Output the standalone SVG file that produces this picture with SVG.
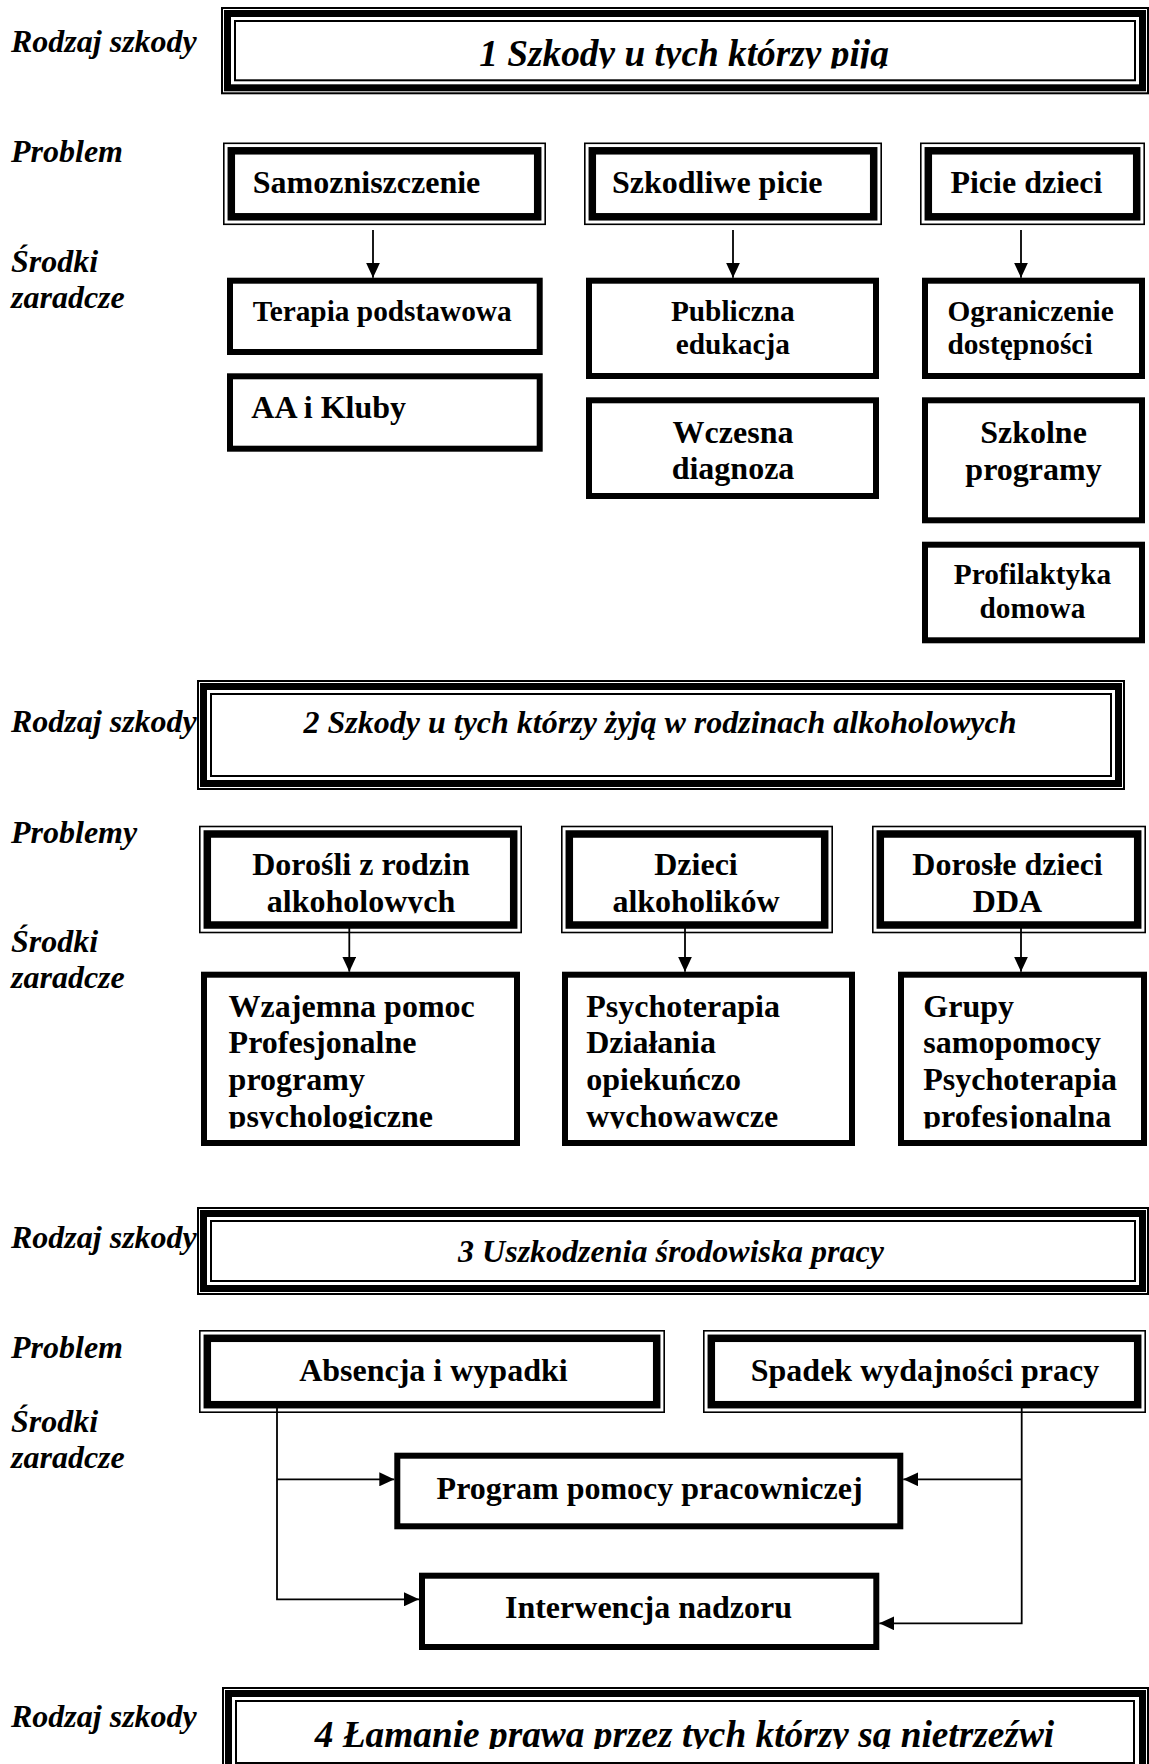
<svg xmlns="http://www.w3.org/2000/svg" width="1149" height="1764" viewBox="0 0 1149 1764">
<style>
  .bg{fill:#fff}
  .lbl{font-family:"Liberation Serif","Times New Roman",serif;font-weight:bold;font-style:italic;font-size:32px;fill:#000}
  .tt{font-family:"Liberation Serif","Times New Roman",serif;font-weight:bold;font-style:italic;fill:#000;text-anchor:middle}
  .tx{font-family:"Liberation Serif","Times New Roman",serif;font-weight:bold;font-size:32px;fill:#000}
  .sm{font-size:29.33px}
  .mid{text-anchor:middle}
  .thin{fill:none;stroke:#000;stroke-width:2}
  .thick7{fill:none;stroke:#000;stroke-width:7}
  .pthin{fill:none;stroke:#000;stroke-width:1.6}
  .pthick{fill:#fff;stroke:#000;stroke-width:7.5}
  .rbox{fill:#fff;stroke:#000;stroke-width:6}
  .conn{fill:none;stroke:#000;stroke-width:1.8}
</style>
<defs>
  <marker id="ah" viewBox="0 0 15 14" refX="15" refY="7" markerWidth="15" markerHeight="14" markerUnits="userSpaceOnUse" orient="auto">
    <path d="M0,0 L15,7 L0,14 Z" fill="#000"/>
  </marker>
  <clipPath id="c1"><rect x="221" y="0" width="928" height="68.5"/></clipPath>
  <clipPath id="c2"><rect x="190" y="800" width="959" height="113.3"/></clipPath>
  <clipPath id="c3"><rect x="190" y="960" width="959" height="168.5"/></clipPath>
  <clipPath id="c4"><rect x="221" y="1680" width="928" height="69"/></clipPath>
</defs>
<rect class="bg" x="0" y="0" width="1149" height="1764"/>

<g id="labels">
  <text class="lbl" x="11" y="52">Rodzaj szkody</text>
  <text class="lbl" x="11" y="161.7">Problem</text>
  <text class="lbl" x="11" y="271.7">Środki</text>
  <text class="lbl" x="11" y="308.3">zaradcze</text>
  <text class="lbl" x="11" y="731.7">Rodzaj szkody</text>
  <text class="lbl" x="11" y="843.3">Problemy</text>
  <text class="lbl" x="11" y="951.7">Środki</text>
  <text class="lbl" x="11" y="988.3">zaradcze</text>
  <text class="lbl" x="11" y="1248.3">Rodzaj szkody</text>
  <text class="lbl" x="11" y="1358.3">Problem</text>
  <text class="lbl" x="11" y="1431.7">Środki</text>
  <text class="lbl" x="11" y="1468.3">zaradcze</text>
  <text class="lbl" x="11" y="1726.7">Rodzaj szkody</text>
</g>

<!-- Section 1 -->
<g id="title1">
  <rect class="thin" x="222" y="8" width="926" height="85.3"/>
  <rect class="thick7" x="227.5" y="13.5" width="915" height="74.3"/>
  <rect class="thin" x="235" y="21" width="900" height="59.3"/>
  <text class="tt" x="684" y="65.5" font-size="37.33" clip-path="url(#c1)">1 Szkody u tych którzy piją</text>
</g>

<g id="p-samozniszczenie">
  <rect class="pthin" x="223.8" y="143.3" width="321.4" height="81"/>
  <rect class="pthick" x="231.3" y="150.8" width="306.4" height="66"/>
  <text class="tx" x="252.8" y="193.3">Samozniszczenie</text>
</g>
<g id="p-szkodliwe">
  <rect class="pthin" x="584.8" y="143.3" width="296.4" height="81"/>
  <rect class="pthick" x="592.3" y="150.8" width="281.4" height="66"/>
  <text class="tx" x="611.9" y="193.3">Szkodliwe picie</text>
</g>
<g id="p-piciedzieci">
  <rect class="pthin" x="920.8" y="143.3" width="223.4" height="81"/>
  <rect class="pthick" x="928.3" y="150.8" width="208.4" height="66"/>
  <text class="tx" x="950.4" y="193.3">Picie dzieci</text>
</g>

<g id="r-terapia">
  <rect class="rbox" x="230" y="280.7" width="309.7" height="71.3"/>
  <text class="tx sm" x="252.8" y="320.7">Terapia podstawowa</text>
</g>
<g id="r-aa">
  <rect class="rbox" x="230" y="376.3" width="309.7" height="72.4"/>
  <text class="tx" x="251.3" y="418.3">AA i Kluby</text>
</g>
<g id="r-publiczna">
  <rect class="rbox" x="589" y="280.7" width="287" height="95.3"/>
  <text class="tx sm mid" x="732.8" y="320.7">Publiczna</text>
  <text class="tx sm mid" x="732.8" y="354">edukacja</text>
</g>
<g id="r-wczesna">
  <rect class="rbox" x="589" y="400.3" width="287" height="95.7"/>
  <text class="tx mid" x="733" y="443.3">Wczesna</text>
  <text class="tx mid" x="733" y="479.3">diagnoza</text>
</g>
<g id="r-ograniczenie">
  <rect class="rbox" x="925" y="280.7" width="217" height="95.3"/>
  <text class="tx sm" x="947.5" y="320.7">Ograniczenie</text>
  <text class="tx sm" x="947.5" y="354">dostępności</text>
</g>
<g id="r-szkolne">
  <rect class="rbox" x="925" y="400.3" width="217" height="120"/>
  <text class="tx mid" x="1033.5" y="443.3">Szkolne</text>
  <text class="tx mid" x="1033.5" y="480">programy</text>
</g>
<g id="r-profilaktyka">
  <rect class="rbox" x="925" y="544.7" width="217" height="95.6"/>
  <text class="tx sm mid" x="1032.5" y="584">Profilaktyka</text>
  <text class="tx sm mid" x="1032.5" y="618.3">domowa</text>
</g>

<!-- Section 2 -->
<g id="title2">
  <rect class="thin" x="198" y="681" width="926" height="108"/>
  <rect class="thick7" x="203.5" y="686.5" width="915" height="97"/>
  <rect class="thin" x="211" y="694" width="900" height="82"/>
  <text class="tt" x="660" y="733.3" font-size="32">2 Szkody u tych którzy żyją w rodzinach alkoholowych</text>
</g>

<g id="p-dorosli">
  <rect class="pthin" x="199.8" y="826.5" width="321.4" height="106"/>
  <rect class="pthick" x="207.3" y="834" width="306.4" height="91"/>
  <g clip-path="url(#c2)">
    <text class="tx mid" x="361" y="875">Dorośli z rodzin</text>
    <text class="tx mid" x="361" y="911.7">alkoholowych</text>
  </g>
</g>
<g id="p-dzieci">
  <rect class="pthin" x="561.8" y="826.5" width="270.4" height="106"/>
  <rect class="pthick" x="569.3" y="834" width="255.4" height="91"/>
  <g clip-path="url(#c2)">
    <text class="tx mid" x="696" y="875">Dzieci</text>
    <text class="tx mid" x="696" y="911.7">alkoholików</text>
  </g>
</g>
<g id="p-dda">
  <rect class="pthin" x="872.8" y="826.5" width="272.4" height="106"/>
  <rect class="pthick" x="880.3" y="834" width="257.4" height="91"/>
  <g clip-path="url(#c2)">
    <text class="tx mid" x="1007.5" y="875">Dorosłe dzieci</text>
    <text class="tx mid" x="1007.5" y="911.7">DDA</text>
  </g>
</g>

<g id="r-wzajemna">
  <rect class="rbox" x="204" y="974.7" width="313" height="168.3"/>
  <g clip-path="url(#c3)">
    <text class="tx" x="228.6" y="1016.7">Wzajemna pomoc</text>
    <text class="tx" x="228.6" y="1053.3">Profesjonalne</text>
    <text class="tx" x="228.6" y="1090">programy</text>
    <text class="tx" x="228.6" y="1126.7">psychologiczne</text>
  </g>
</g>
<g id="r-psychoterapia">
  <rect class="rbox" x="565" y="974.7" width="287" height="168.3"/>
  <g clip-path="url(#c3)">
    <text class="tx" x="586.2" y="1016.7">Psychoterapia</text>
    <text class="tx" x="586.2" y="1053.3">Działania</text>
    <text class="tx" x="586.2" y="1090">opiekuńczo</text>
    <text class="tx" x="586.2" y="1126.7">wychowawcze</text>
  </g>
</g>
<g id="r-grupy">
  <rect class="rbox" x="901" y="974.7" width="243" height="168.3"/>
  <g clip-path="url(#c3)">
    <text class="tx" x="923.3" y="1016.7">Grupy</text>
    <text class="tx" x="923.3" y="1053.3">samopomocy</text>
    <text class="tx" x="923.3" y="1090">Psychoterapia</text>
    <text class="tx" x="923.3" y="1126.7">profesjonalna</text>
  </g>
</g>

<!-- Section 3 -->
<g id="title3">
  <rect class="thin" x="198" y="1208" width="950" height="86"/>
  <rect class="thick7" x="203.5" y="1213.5" width="939" height="75"/>
  <rect class="thin" x="211" y="1221" width="924" height="60"/>
  <text class="tt" x="671" y="1261.5" font-size="32">3 Uszkodzenia środowiska pracy</text>
</g>

<g id="p-absencja">
  <rect class="pthin" x="199.8" y="1330.8" width="464.4" height="81.4"/>
  <rect class="pthick" x="207.3" y="1338.3" width="449.4" height="66.4"/>
  <text class="tx mid" x="433.4" y="1380.5">Absencja i wypadki</text>
</g>
<g id="p-spadek">
  <rect class="pthin" x="703.8" y="1330.8" width="441.4" height="81.4"/>
  <rect class="pthick" x="711.3" y="1338.3" width="426.4" height="66.4"/>
  <text class="tx mid" x="925" y="1380.5">Spadek wydajności pracy</text>
</g>

<g id="r-program">
  <rect class="rbox" x="397.3" y="1455.7" width="503" height="70.6"/>
  <text class="tx mid" x="649.6" y="1499.3">Program pomocy pracowniczej</text>
</g>
<g id="r-interwencja">
  <rect class="rbox" x="422" y="1575.7" width="454.3" height="71.3"/>
  <text class="tx mid" x="648.5" y="1618.3">Interwencja nadzoru</text>
</g>

<!-- Section 4 -->
<g id="title4">
  <rect class="thin" x="223" y="1688" width="925" height="89"/>
  <rect class="thick7" x="228.5" y="1693.5" width="914" height="78"/>
  <rect class="thin" x="236" y="1701" width="898" height="62"/>
  <text class="tt" x="684.5" y="1747" font-size="37.33" clip-path="url(#c4)">4 Łamanie prawa przez tych którzy są nietrzeźwi</text>
</g>

<g id="connectors">
  <line class="conn" x1="373" y1="230" x2="373" y2="277.7" marker-end="url(#ah)"/>
  <line class="conn" x1="733" y1="230" x2="733" y2="277.7" marker-end="url(#ah)"/>
  <line class="conn" x1="1021" y1="230" x2="1021" y2="277.7" marker-end="url(#ah)"/>

  <line class="conn" x1="349.3" y1="928" x2="349.3" y2="971.7" marker-end="url(#ah)"/>
  <line class="conn" x1="685" y1="928" x2="685" y2="971.7" marker-end="url(#ah)"/>
  <line class="conn" x1="1021" y1="928" x2="1021" y2="971.7" marker-end="url(#ah)"/>

  <path class="conn" d="M277,1408 V1599.3 H419" marker-end="url(#ah)"/>
  <line class="conn" x1="277" y1="1479.3" x2="394.3" y2="1479.3" marker-end="url(#ah)"/>
  <path class="conn" d="M1021.7,1408 V1623.3 H879.3" marker-end="url(#ah)"/>
  <line class="conn" x1="1021.7" y1="1479.3" x2="903.3" y2="1479.3" marker-end="url(#ah)"/>
</g>
</svg>
